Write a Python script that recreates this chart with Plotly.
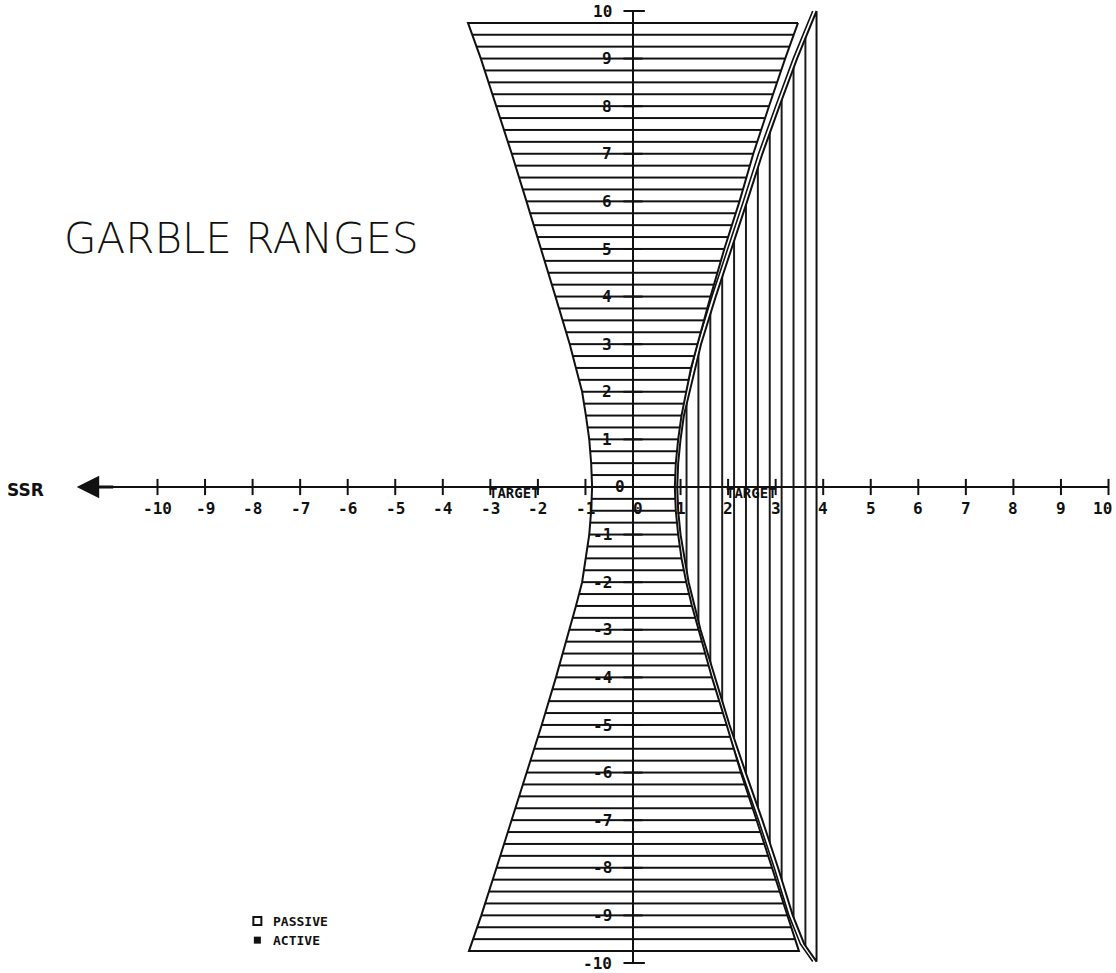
import plotly.graph_objects as go

# ---------------- data ----------------
TICKS = list(range(-10, 11))

# passive zone (horizontal hatching): edge x-positions at each height
PASSIVE_Y = [9.75, 9, 8, 7, 6, 5, 4, 3, 2.5, 2, 1.5, 1, 0.5, 0,
             -0.5, -1, -1.5, -2, -2.5, -3, -4, -5, -6, -7, -8, -9, -9.75]
PASSIVE_LEFT = [-3.47, -3.20, -2.87, -2.55, -2.24, -1.93, -1.63, -1.33, -1.20, -1.07,
                -0.99, -0.92, -0.88, -0.86, -0.88, -0.92, -0.99, -1.07, -1.20, -1.33,
                -1.62, -1.92, -2.23, -2.55, -2.87, -3.19, -3.45]
PASSIVE_RIGHT = [3.47, 3.20, 2.86, 2.53, 2.24, 1.92, 1.63, 1.35, 1.22, 1.12,
                 1.02, 0.95, 0.90, 0.88, 0.90, 0.95, 1.02, 1.12, 1.24, 1.38,
                 1.66, 1.97, 2.27, 2.60, 2.92, 3.24, 3.49]

# active zone (vertical hatching): inner edge and outer limit
ACTIVE_Y = [10.0, 9, 8, 7, 6, 5, 4, 3, 2, 1.5, 1, 0.5, 0, -0.5, -1, -1.5, -2,
            -3, -4, -5, -6, -7, -8, -9, -9.6, -9.97]
ACTIVE_LEFT = [3.86, 3.45, 3.08, 2.72, 2.40, 2.07, 1.74, 1.43, 1.18, 1.07, 1.00, 0.95,
               0.93, 0.95, 1.00, 1.08, 1.17, 1.42, 1.72, 2.03, 2.37, 2.72, 3.05, 3.36,
               3.60, 3.86]
ACTIVE_OUTER_X = 3.86

TITLE = "GARBLE RANGES"
AXIS_NAME = "SSR"
TARGET_MARKS = [-2.5, 2.5]
LEGEND_ITEMS = ["PASSIVE", "ACTIVE"]

# ---------------- page geometry ----------------
W, H = 1116, 973
ML, MT = 3, 5
PX_X, PX_Y = 47.55, 47.6          # pixels per unit
X0_PX, Y0_PX = 633, 487           # pixel position of the origin
x_range = [(ML - X0_PX) / PX_X, (W - X0_PX) / PX_X]
y_range = [(Y0_PX - H) / PX_Y, (Y0_PX - MT) / PX_Y]

INK = "#111111"
TICK_FONT = dict(family="DejaVu Sans Mono", size=16, color=INK, weight="bold")

fig = go.Figure()

# active zone: vertical hatching
ax_x = ACTIVE_LEFT + [ACTIVE_OUTER_X, ACTIVE_OUTER_X]
ax_y = ACTIVE_Y + [ACTIVE_Y[-1], ACTIVE_Y[0]]
fig.add_trace(go.Scatter(
    x=ax_x, y=ax_y, mode="lines", fill="toself",
    fillcolor="rgba(0,0,0,0)",
    fillpattern=dict(shape="|", size=PX_X / 4, solidity=0.16,
                     fgcolor=INK, bgcolor="white", fillmode="replace"),
    line=dict(color=INK, width=2), hoverinfo="skip", showlegend=False))
# doubled inner edge of the active zone
fig.add_trace(go.Scatter(
    x=[v - 0.08 for v in ACTIVE_LEFT], y=ACTIVE_Y, mode="lines",
    line=dict(color=INK, width=1.6), hoverinfo="skip", showlegend=False))

# passive zone: horizontal hatching
px_ = PASSIVE_RIGHT + PASSIVE_LEFT[::-1] + [PASSIVE_RIGHT[0]]
py_ = PASSIVE_Y + PASSIVE_Y[::-1] + [PASSIVE_Y[0]]
fig.add_trace(go.Scatter(
    x=px_, y=py_, mode="lines", fill="toself",
    fillcolor="rgba(0,0,0,0)",
    fillpattern=dict(shape="-", size=PX_Y / 4, solidity=0.17,
                     fgcolor=INK, bgcolor="white", fillmode="replace"),
    line=dict(color=INK, width=2), hoverinfo="skip", showlegend=False))

# axes drawn as plain lines
fig.add_trace(go.Scatter(x=[-11.4, TICKS[-1]], y=[0, 0], mode="lines",
                         line=dict(color=INK, width=2), hoverinfo="skip", showlegend=False))
fig.add_trace(go.Scatter(x=[0, 0], y=[TICKS[0], TICKS[-1]], mode="lines",
                         line=dict(color=INK, width=2), hoverinfo="skip", showlegend=False))

# tick marks crossing each axis
tx, ty = [], []
for t in TICKS:
    tx += [t, t, None]
    ty += [-0.17, 0.17, None]
fig.add_trace(go.Scatter(x=tx, y=ty, mode="lines", line=dict(color=INK, width=2),
                         hoverinfo="skip", showlegend=False))
tx, ty = [], []
for t in TICKS:
    if t in (-10, 10):
        tx += [-0.2, 0.25, None]
    else:
        tx += [-0.2, 0.2, None]
    ty += [t, t, None]
fig.add_trace(go.Scatter(x=tx, y=ty, mode="lines", line=dict(color=INK, width=2),
                         hoverinfo="skip", showlegend=False))

ann = []
# x tick labels (the last one is nudged inward to stay on the page)
for t in TICKS:
    shift = 5 if t == 0 else (-6 if t == TICKS[-1] else 0)
    ann.append(dict(x=t, y=0, text=str(t), showarrow=False, xref="x", yref="y",
                    xanchor="center", yanchor="middle", yshift=-21,
                    xshift=shift, font=TICK_FONT))
# y tick labels
for t in TICKS:
    if t == 0:
        ann.append(dict(x=0, y=0, text="0", showarrow=False, xanchor="right",
                        yanchor="middle", xshift=-6, yshift=1, font=TICK_FONT))
        continue
    ann.append(dict(x=0, y=t, text=str(t), showarrow=False, xanchor="right",
                    yanchor="middle", xshift=-19, font=TICK_FONT))

# target markers on the axis
for m in TARGET_MARKS:
    ann.append(dict(x=m, y=0, text="TARGET", showarrow=False, xanchor="center",
                    yanchor="middle", yshift=-6,
                    font=dict(family="DejaVu Sans Mono", size=14, color=INK, weight="bold")))

# arrow head on the SSR end of the axis
ann.append(dict(x=-11.7, y=0, ax=-10.9, ay=0, xref="x", yref="y", axref="x", ayref="y",
                text="", showarrow=True, arrowhead=2, arrowsize=1.5, arrowwidth=3,
                arrowcolor=INK))
ann.append(dict(x=-12.77, y=0, text=AXIS_NAME, showarrow=False, xanchor="center",
                yanchor="middle", yshift=-3,
                font=dict(family="DejaVu Sans", size=17, color=INK, weight="bold")))

# title
ann.append(dict(x=(241 - X0_PX) / PX_X, y=(Y0_PX - 238) / PX_Y, text=TITLE,
                showarrow=False, xanchor="center", yanchor="middle",
                font=dict(family="DejaVu Sans", size=42, color=INK, weight=200)))

# key
key_x, key_y = -7.9, [-9.12, -9.52]
for label, ky in zip(LEGEND_ITEMS, key_y):
    ann.append(dict(x=key_x, y=ky, text=label, showarrow=False, xanchor="left",
                    yanchor="middle", xshift=14,
                    font=dict(family="DejaVu Sans Mono", size=13, color=INK, weight="bold")))
fig.add_trace(go.Scatter(x=[key_x], y=[key_y[0]], mode="markers",
                         marker=dict(symbol="square-open", size=8, color=INK,
                                     line=dict(width=2, color=INK)),
                         hoverinfo="skip", showlegend=False))
fig.add_trace(go.Scatter(x=[key_x], y=[key_y[1]], mode="markers",
                         marker=dict(symbol="square", size=7, color=INK),
                         hoverinfo="skip", showlegend=False))

fig.update_layout(
    width=W, height=H,
    margin=dict(l=ML, r=0, t=MT, b=0, pad=0),
    paper_bgcolor="white", plot_bgcolor="white",
    xaxis=dict(range=x_range, visible=False, fixedrange=True),
    yaxis=dict(range=y_range, visible=False, fixedrange=True),
    annotations=ann, showlegend=False,
)
fig.write_html("out.html")
